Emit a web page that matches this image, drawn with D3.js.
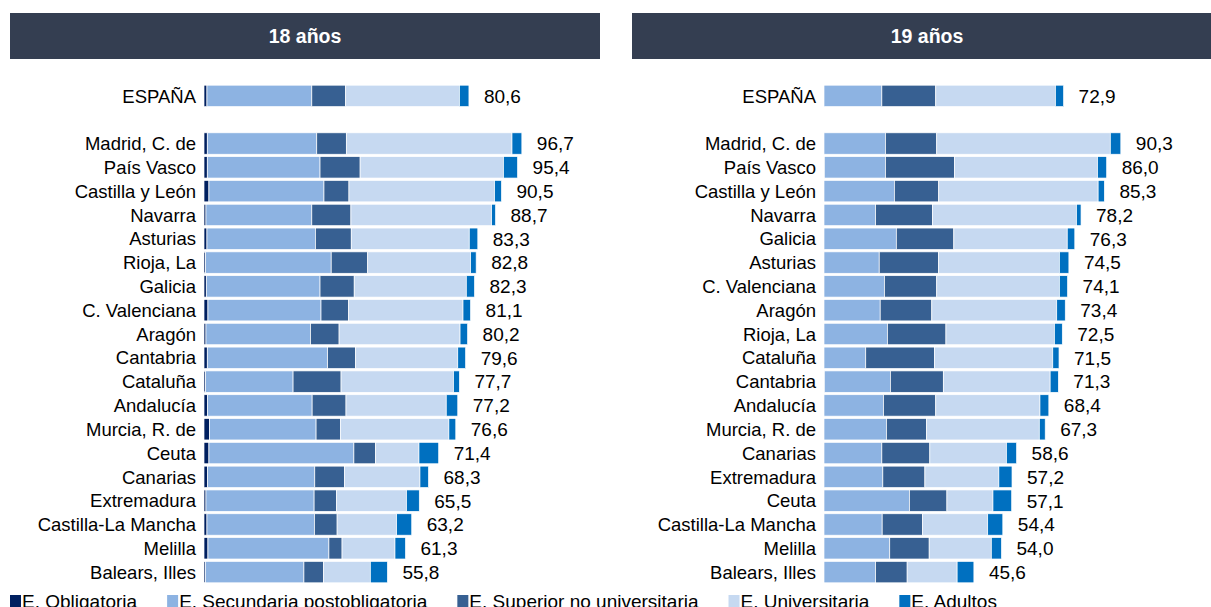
<!DOCTYPE html>
<html>
<head>
<meta charset="utf-8">
<script src="https://cdn.jsdelivr.net/npm/d3@7"></script>
<style>
  body { margin: 0; background: #fff; }
  svg { display: block; font-family: "Liberation Sans", Arial, sans-serif; }
</style>
</head>
<body>
<div id="chart"></div>
<script>
// series names + colours
var series = ["E. Obligatoria", "E. Secundaria postobligatoria", "E. Superior no universitaria", "E. Universitaria", "E. Adultos"];
var colors = ["#002060", "#8db3e2", "#376092", "#c6d9f1", "#0070c0"];

// 18 años
var regions18 = ["ESPAÑA", "Madrid, C. de", "País Vasco", "Castilla y León", "Navarra", "Asturias", "Rioja, La", "Galicia", "C. Valenciana", "Aragón", "Cantabria", "Cataluña", "Andalucía", "Murcia, R. de", "Ceuta", "Canarias", "Extremadura", "Castilla-La Mancha", "Melilla", "Balears, Illes"];
var oblig18 = [0.9, 1.0, 1.0, 1.5, 0.6, 0.9, 0.5, 0.7, 1.2, 0.6, 1.0, 0.5, 1.1, 1.7, 1.5, 1.1, 0.6, 0.9, 1.2, 0.4];
var secun18 = [31.9, 33.3, 34.3, 35.0, 32.2, 33.0, 38.2, 34.6, 34.4, 31.8, 36.6, 26.6, 31.8, 32.4, 44.1, 32.6, 32.9, 32.7, 36.8, 30.0];
var super18 = [10.3, 9.0, 12.2, 7.6, 11.9, 10.9, 11.1, 10.4, 8.4, 8.7, 8.5, 14.6, 10.3, 7.4, 6.6, 9.0, 6.8, 6.9, 4.0, 6.0];
var univ18 = [34.6, 50.4, 43.6, 44.3, 42.8, 35.9, 31.3, 34.1, 34.8, 36.8, 31.1, 34.2, 30.5, 33.0, 13.2, 23.0, 21.3, 18.1, 16.1, 14.2];
var adult18 = [2.9, 3.0, 4.3, 2.1, 1.2, 2.6, 1.7, 2.5, 2.3, 2.3, 2.4, 1.8, 3.5, 2.1, 6.0, 2.6, 3.9, 4.6, 3.2, 5.2];

// 19 años
var regions19 = ["ESPAÑA", "Madrid, C. de", "País Vasco", "Castilla y León", "Navarra", "Galicia", "Asturias", "C. Valenciana", "Aragón", "Rioja, La", "Cataluña", "Cantabria", "Andalucía", "Murcia, R. de", "Canarias", "Extremadura", "Ceuta", "Castilla-La Mancha", "Melilla", "Balears, Illes"];
var oblig19 = [0, 0, 0.1, 0, 0, 0, 0, 0, 0, 0, 0, 0.1, 0, 0, 0, 0, 0, 0, 0, 0];
var secun19 = [17.6, 18.7, 18.6, 21.4, 15.7, 22.0, 16.8, 18.4, 17.1, 19.3, 12.7, 20.1, 18.1, 19.0, 17.6, 17.9, 26.0, 17.7, 20.0, 15.7];
var super19 = [16.4, 15.6, 21.0, 13.5, 17.3, 17.5, 18.0, 15.9, 15.7, 17.8, 20.9, 16.1, 15.9, 12.2, 14.6, 12.8, 11.4, 12.3, 12.0, 9.6];
var univ19 = [36.4, 52.8, 43.5, 48.5, 43.8, 34.5, 36.8, 37.3, 38.0, 33.0, 36.0, 32.5, 31.7, 34.3, 23.3, 22.5, 14.0, 19.8, 18.9, 15.2];
var adult19 = [2.5, 3.2, 2.8, 1.9, 1.4, 2.3, 2.9, 2.5, 2.6, 2.4, 1.9, 2.5, 2.7, 1.8, 3.1, 4.0, 5.7, 4.6, 3.1, 5.1];

var W = 1211, H = 607;

var svg = d3.select("#chart").append("svg")
    .attr("width", W)
    .attr("height", H);

var panels = [
    { title: "18 años", regions: regions18, vals: [oblig18, secun18, super18, univ18, adult18], hx: 10, hw: 590, bx: 204 },
    { title: "19 años", regions: regions19, vals: [oblig19, secun19, super19, univ19, adult19], hx: 632, hw: 579, bx: 824 }
];

panels.forEach(function (p) {
    // header band
    svg.append("rect")
        .attr("x", p.hx).attr("y", 13)
        .attr("width", p.hw).attr("height", 46)
        .attr("fill", "#343e51");
    svg.append("text")
        .attr("x", p.hx + 295).attr("y", 43)
        .attr("text-anchor", "middle")
        .attr("fill", "#fff")
        .attr("font-weight", "bold")
        .attr("font-size", "19.5px")
        .text(p.title);

    // one empty slot between ESPAÑA and the regions
    var rows = [p.regions[0], "_gap"].concat(p.regions.slice(1));
    var y = d3.scaleBand().domain(rows).range([84, 584]).paddingInner(0.1).paddingOuter(0.05);
    var x = d3.scaleLinear().domain([0, 100]).range([p.bx, p.bx + 328.7]);

    var data = p.regions.map(function (r, i) {
        var d = { region: r, total: 0 };
        series.forEach(function (s, k) { d[s] = p.vals[k][i]; d.total += p.vals[k][i]; });
        return d;
    });

    var stacked = d3.stack().keys(series)(data);

    svg.append("g").selectAll("g")
        .data(stacked)
        .enter().append("g")
        .attr("fill", function (d, i) { return colors[i]; })
        .selectAll("rect")
        .data(function (d) { return d; })
        .enter().append("rect")
        .attr("x", function (d) { return x(d[0]); })
        .attr("y", function (d) { return y(d.data.region); })
        .attr("width", function (d) { return x(d[1]) - x(d[0]); })
        .attr("height", y.bandwidth())
        .attr("stroke", "#fff")
        .attr("stroke-width", 0.7);

    // region names
    svg.append("g").selectAll("text")
        .data(data)
        .enter().append("text")
        .attr("x", p.bx - 8)
        .attr("y", function (d) { return y(d.region) + y.bandwidth() / 2; })
        .attr("dy", "0.36em")
        .attr("text-anchor", "end")
        .attr("font-size", "18.5px")
        .attr("fill", "#000")
        .text(function (d) { return d.region; });

    // totals
    svg.append("g").selectAll("text")
        .data(data)
        .enter().append("text")
        .attr("x", function (d) { return x(d.total) + 15; })
        .attr("y", function (d) { return y(d.region) + y.bandwidth() / 2; })
        .attr("dy", "0.36em")
        .attr("font-size", "19px")
        .attr("fill", "#000")
        .text(function (d) { return d.total.toFixed(1).replace(".", ","); });
});

// legend along the bottom (cut by the bottom edge, as in the source)
var legend = svg.append("g").attr("transform", "translate(10,0)");
var lx = 0;
series.forEach(function (s, i) {
    var g = legend.append("g").attr("transform", "translate(" + lx + ",0)");
    g.append("rect")
        .attr("x", 0).attr("y", 595)
        .attr("width", 11).attr("height", 12)
        .attr("fill", colors[i]);
    var t = g.append("text")
        .attr("x", 12).attr("y", 608)
        .attr("font-size", "19px")
        .attr("fill", "#000")
        .text(s);
    lx += 12 + t.node().getComputedTextLength() + 30;
});
</script>
</body>
</html>
